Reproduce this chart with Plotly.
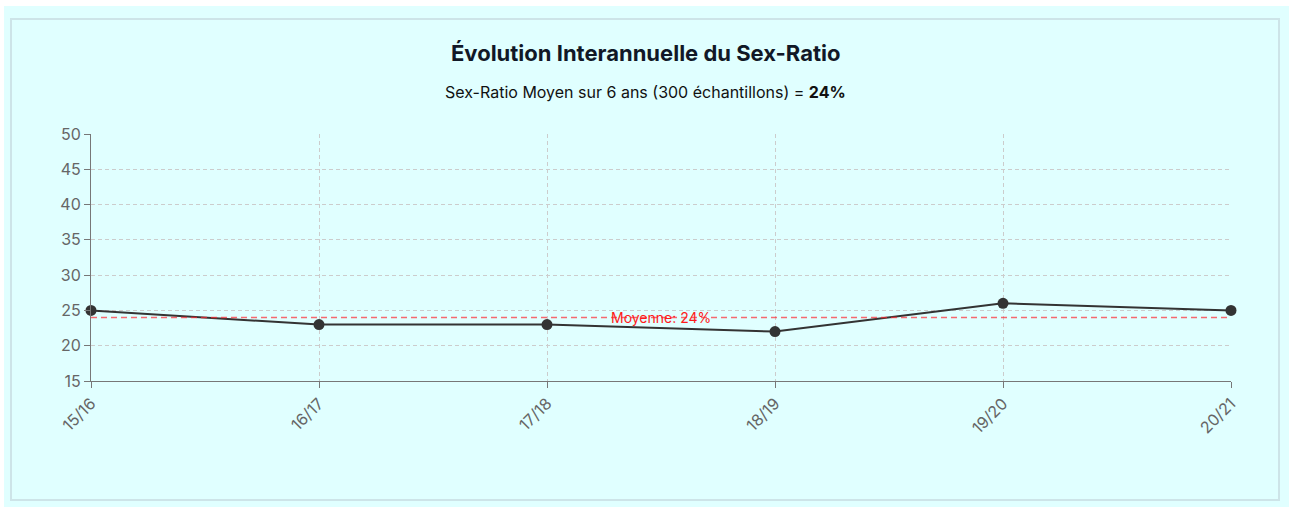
import plotly.graph_objects as go

categories = ["15/16", "16/17", "17/18", "18/19", "19/20", "20/21"]
sex_ratio = [25, 23, 23, 22, 26, 25]
mean_value = 24
y_ticks = [15, 20, 25, 30, 35, 40, 45, 50]

W, H = 1289, 507
L, R, T, B = 91, 58, 134, 126
pw, ph = W - L - R, H - T - B


def px(x):
    return (x - L) / pw


def py(y):
    return (H - B - y) / ph


fig = go.Figure()
fig.add_trace(go.Scatter(
    x=categories, y=sex_ratio, mode="lines+markers",
    line=dict(color="#333333", width=2),
    marker=dict(color="#333333", size=11),
    cliponaxis=False, showlegend=False,
))

fig.add_shape(type="line", xref="x", yref="y", x0=categories[0], x1=categories[-1],
              y0=mean_value, y1=mean_value,
              line=dict(color="rgba(255,40,50,0.7)", width=1.6, dash="6px,4px"))
fig.add_annotation(x=2.5, y=mean_value, xref="x", yref="y", text=f"Moyenne: {mean_value}%",
                   showarrow=False, font=dict(color="#ff1a1a", size=14, family="Inter"),
                   yanchor="middle", xanchor="center")

# background panel and border
fig.add_shape(type="rect", xref="paper", yref="paper", layer="below",
              x0=px(4), x1=px(W + 5), y0=py(6), y1=py(H + 5),
              fillcolor="#e0ffff", line=dict(width=0))
fig.add_shape(type="rect", xref="paper", yref="paper", layer="below",
              x0=px(11), x1=px(1279), y0=py(19), y1=py(500),
              fillcolor="rgba(0,0,0,0)", line=dict(color="#cde4e8", width=2))

fig.add_annotation(x=px(645), y=py(53), xref="paper", yref="paper",
                   text="<b>Évolution Interannuelle du Sex-Ratio</b>", showarrow=False,
                   font=dict(size=22, color="#111827", family="Inter"), yanchor="middle")
fig.add_annotation(x=px(645), y=py(92), xref="paper", yref="paper",
                   text=f"Sex-Ratio Moyen sur 6 ans (300 échantillons) = <b>{mean_value}%</b>",
                   showarrow=False, font=dict(size=16, color="#111111", family="Inter"),
                   yanchor="middle")

fig.update_layout(
    width=W, height=H,
    margin=dict(l=L, r=R, t=T, b=B),
    paper_bgcolor="white", plot_bgcolor="rgba(0,0,0,0)",
    font=dict(family="Inter", color="#666666"),
    xaxis=dict(type="category", range=[0, 5], showline=True, linecolor="#777777", linewidth=1,
               ticks="outside", ticklen=6, tickcolor="#777777", tickangle=-45,
               showgrid=True, gridcolor="#cccccc", griddash="4px,3px", gridwidth=1,
               tickfont=dict(size=16, color="#666666"), zeroline=False),
    yaxis=dict(range=[15, 50], tickvals=y_ticks, showline=True, linecolor="#777777", linewidth=1,
               ticks="outside", ticklen=6, tickcolor="#777777",
               showgrid=True, gridcolor="#cccccc", griddash="4px,3px", gridwidth=1,
               tickfont=dict(size=16, color="#666666"), zeroline=False),
)

fig.write_html("out.html", config={"displayModeBar": False},
               post_script="document.body.style.margin='0';document.body.style.overflow='hidden';")
